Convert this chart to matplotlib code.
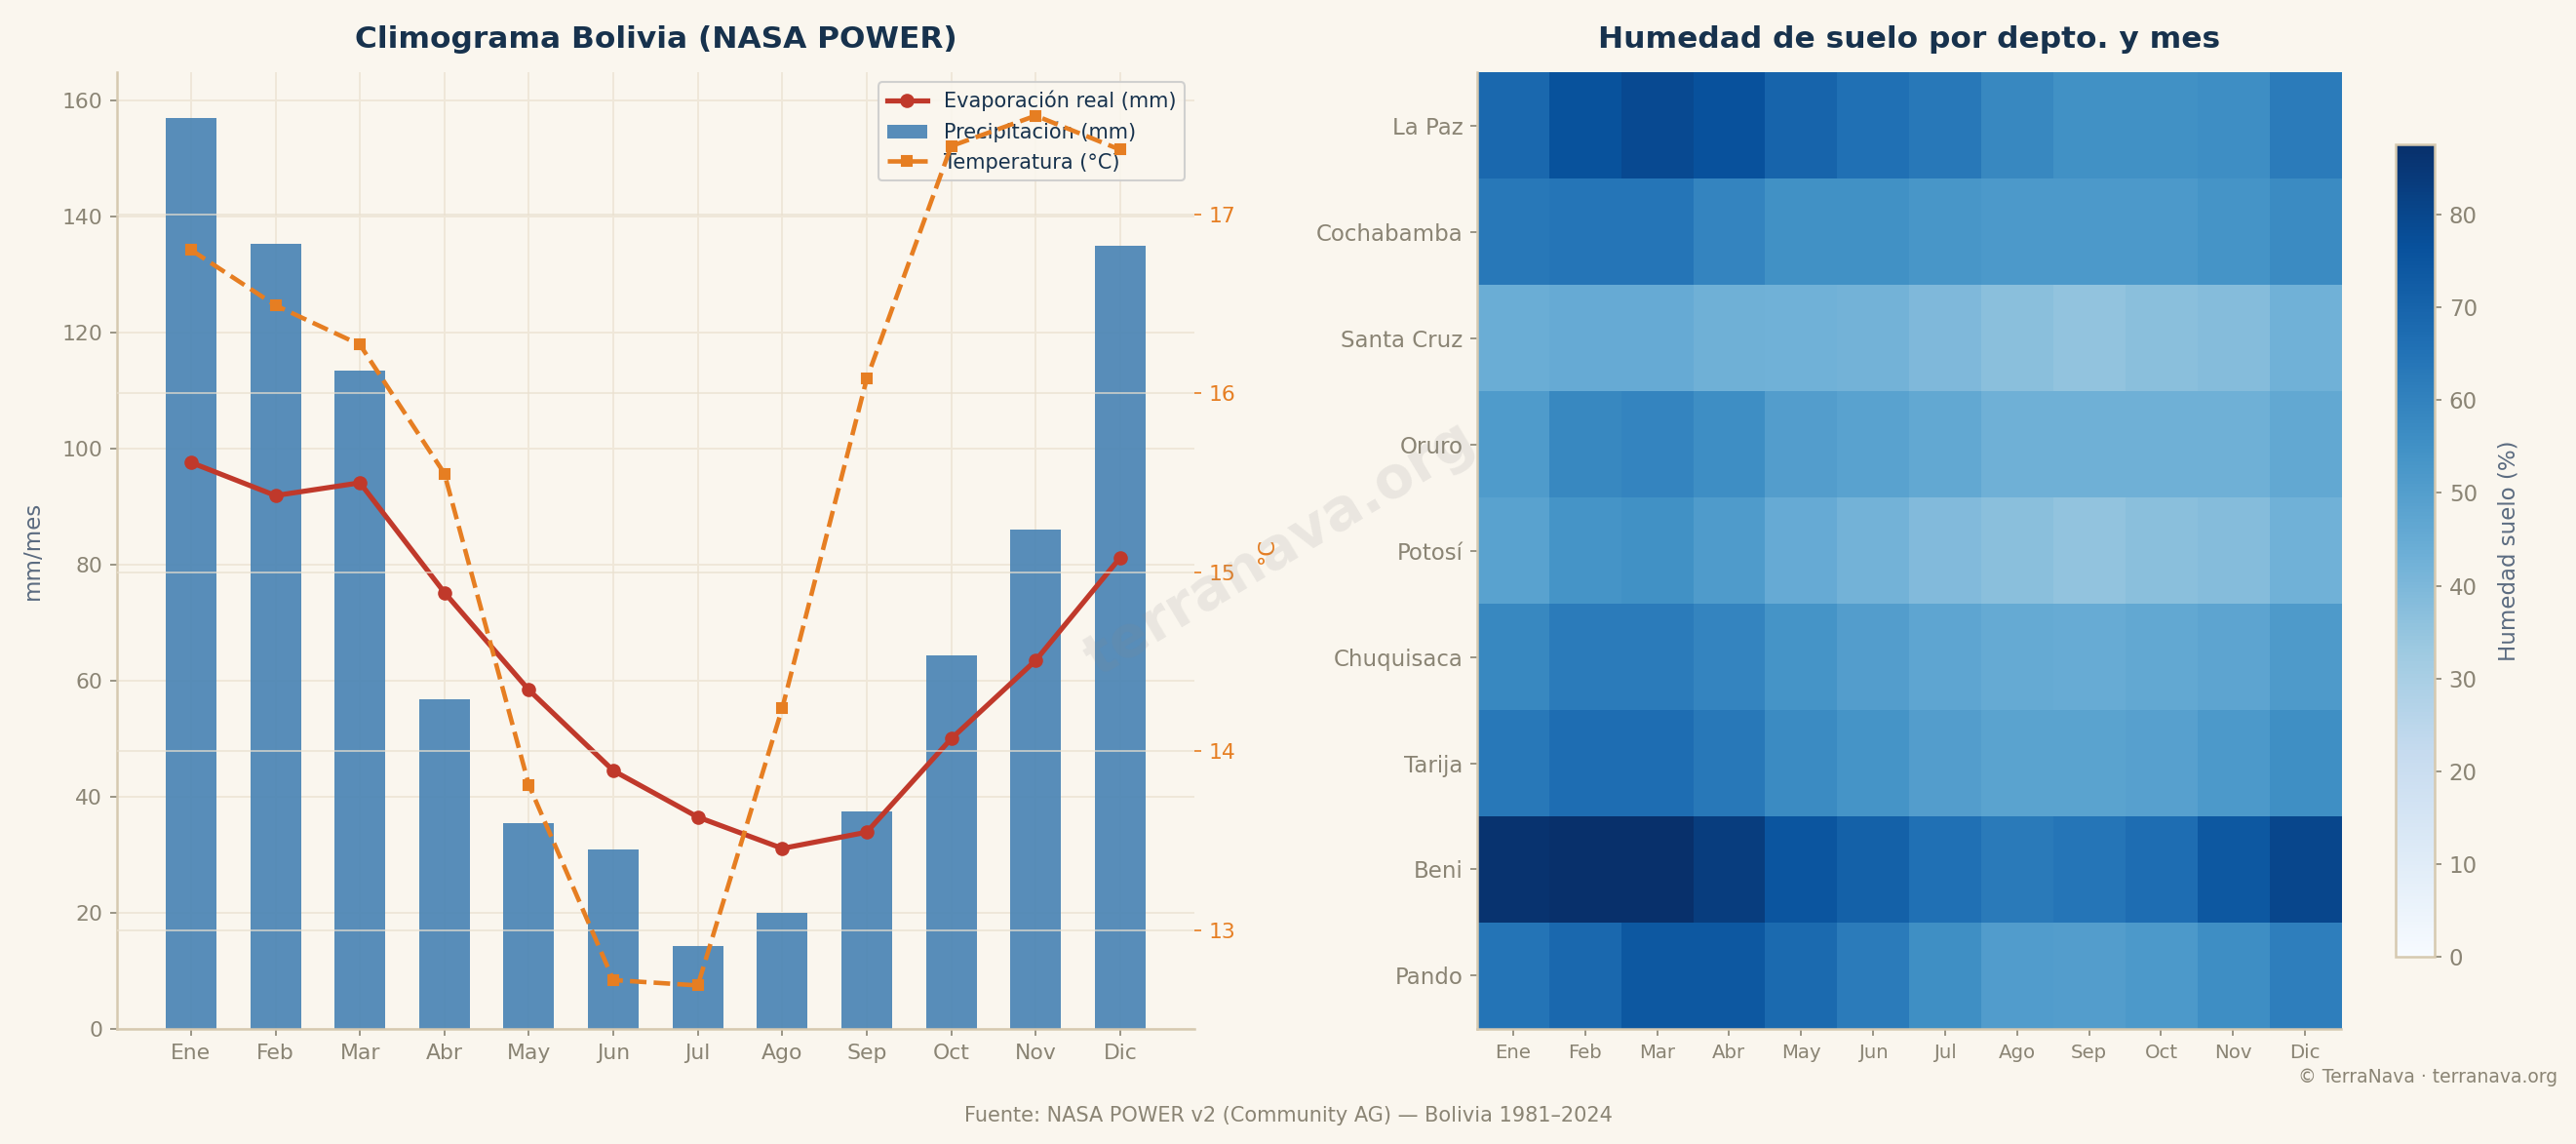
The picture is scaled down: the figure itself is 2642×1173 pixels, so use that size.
import numpy as np
import matplotlib.pyplot as plt

plt.rcParams['font.family'] = 'DejaVu Sans'

# datos
meses = ['Ene', 'Feb', 'Mar', 'Abr', 'May', 'Jun',
         'Jul', 'Ago', 'Sep', 'Oct', 'Nov', 'Dic']
precip = [157.0, 135.2, 113.4, 56.8, 35.4, 31.0, 14.3, 20.0, 37.4, 64.4, 86.0, 134.9]
evap = [97.6, 91.9, 94.1, 75.2, 58.4, 44.5, 36.5, 31.1, 33.9, 50.0, 63.5, 81.2]
temp = [16.80, 16.49, 16.27, 15.55, 13.81, 12.72, 12.69, 14.24, 16.08, 17.38, 17.55, 17.36]

deptos = ['La Paz', 'Cochabamba', 'Santa Cruz', 'Oruro', 'Potosí',
          'Chuquisaca', 'Tarija', 'Beni', 'Pando']
hum_lapaz = [68.5, 76.0, 79.0, 76.5, 70.0, 66.0, 63.0, 58.0, 55.0, 55.0, 56.0, 62.0]
hum_cocha = [63.0, 64.0, 64.0, 59.0, 55.0, 55.0, 53.0, 52.0, 52.0, 52.0, 54.0, 57.0]
hum_scruz = [44.0, 45.0, 45.0, 43.0, 42.5, 42.0, 39.5, 37.0, 35.5, 37.0, 38.0, 42.5]
hum_oruro = [51.0, 58.0, 59.0, 56.0, 50.0, 48.5, 46.0, 43.0, 43.0, 43.0, 43.0, 46.0]
hum_potosi = [48.5, 54.0, 55.0, 51.0, 45.0, 42.0, 39.0, 37.0, 35.5, 37.0, 38.0, 42.5]
hum_chuqui = [58.0, 62.0, 62.0, 59.0, 54.0, 50.0, 47.0, 45.5, 44.5, 46.0, 47.5, 51.5]
hum_tarija = [63.0, 67.0, 67.0, 63.0, 57.0, 54.0, 50.0, 48.0, 48.0, 49.0, 52.0, 55.5]
hum_beni = [86.5, 87.6, 87.5, 83.0, 75.0, 71.0, 66.0, 62.5, 64.0, 67.0, 74.0, 80.0]
hum_pando = [64.5, 68.5, 74.0, 74.0, 68.0, 62.0, 55.5, 50.5, 50.0, 52.0, 56.0, 61.0]
humedad = np.array([hum_lapaz, hum_cocha, hum_scruz, hum_oruro, hum_potosi,
                    hum_chuqui, hum_tarija, hum_beni, hum_pando])

bg = '#faf6ee'
navy = '#17324d'
gris = '#8a8474'
pizarra = '#5b6b80'
beige = '#d6c9b0'
rojo = '#c0392b'
naranja = '#e67e22'

fig = plt.figure(figsize=(2642/150, 1173/150), dpi=150, facecolor=bg)

#%% climograma
ax1 = fig.add_axes([0.0453, 0.1006, 0.4184, 0.8363])
ax1.set_facecolor(bg)
x = np.arange(len(meses))
ax1.grid(True, color='#efe7d8', lw=0.9, zorder=0)
ax1.set_axisbelow(True)
barras = ax1.bar(x, precip, width=0.6, color='steelblue', alpha=0.9,
                 label='Precipitación (mm)', zorder=2)
linea_ev, = ax1.plot(x, evap, color=rojo, lw=2.5, marker='o', ms=6,
                     label='Evaporación real (mm)', zorder=3)
ax1.set_xticks(x)
ax1.set_xticklabels(meses)
ax1.set_ylabel('mm/mes', color=pizarra, fontsize=11, labelpad=9)
ax1.tick_params(colors=gris, labelsize=10.5)
for s in ['top', 'right']:
    ax1.spines[s].set_visible(False)
for s in ['left', 'bottom']:
    ax1.spines[s].set_color(beige)
    ax1.spines[s].set_linewidth(1.2)
ax1.set_title('Climograma Bolivia (NASA POWER)', fontsize=15, fontweight='bold',
              color=navy, pad=12)

ax2 = ax1.twinx()
linea_t, = ax2.plot(x, temp, color=naranja, lw=2.2, ls='--', marker='s', ms=5,
                    label='Temperatura (°C)')
ax2.set_ylabel('°C', color=naranja, fontsize=11, labelpad=10)
ax2.tick_params(axis='y', colors=naranja, labelsize=10.5)
ax2.grid(True, axis='y', color='#e9e0cf', lw=0.9, alpha=0.7)
for s in ['top', 'right', 'left', 'bottom']:
    ax2.spines[s].set_visible(False)

leg = ax1.legend([linea_ev, barras, linea_t],
                 ['Evaporación real (mm)', 'Precipitación (mm)', 'Temperatura (°C)'],
                 loc='upper right', fontsize=10, facecolor=bg, edgecolor='#cccccc',
                 framealpha=0.9, labelcolor=navy)

#%% mapa de calor
ax3 = fig.add_axes([0.5734, 0.1006, 0.3354, 0.8363])
im = ax3.imshow(humedad, cmap='Blues', vmin=0, vmax=humedad.max(), aspect='auto')
ax3.set_xticks(np.arange(len(meses)))
ax3.set_xticklabels(meses, fontsize=9.5)
ax3.set_yticks(np.arange(len(deptos)))
ax3.set_yticklabels(deptos, fontsize=11)
ax3.tick_params(colors=gris)
for s in ['top', 'right']:
    ax3.spines[s].set_visible(False)
for s in ['left', 'bottom']:
    ax3.spines[s].set_color(beige)
    ax3.spines[s].set_linewidth(1.2)
ax3.set_title('Humedad de suelo por depto. y mes', fontsize=15, fontweight='bold',
              color=navy, pad=12)

cax = fig.add_axes([0.930, 0.1637, 0.0152, 0.7102])
cb = fig.colorbar(im, cax=cax)
cb.outline.set_edgecolor(beige)
cb.outline.set_linewidth(1.2)
cb.ax.tick_params(colors=gris, labelsize=11)
cb.set_label('Humedad suelo (%)', color=pizarra, fontsize=11, labelpad=10)

#%% textos
fig.text(0.497, 0.52, 'terranava.org', rotation=31, fontsize=28, fontweight='bold',
         color='#888888', alpha=0.14, ha='center', va='center')
fig.text(0.5, 0.025, 'Fuente: NASA POWER v2 (Community AG) — Bolivia 1981–2024',
         ha='center', va='center', fontsize=10, color=gris)
fig.text(0.993, 0.058, '© TerraNava · terranava.org', ha='right', va='center',
         fontsize=9, color=gris)

fig.savefig('out.png', dpi=150, facecolor=bg)
